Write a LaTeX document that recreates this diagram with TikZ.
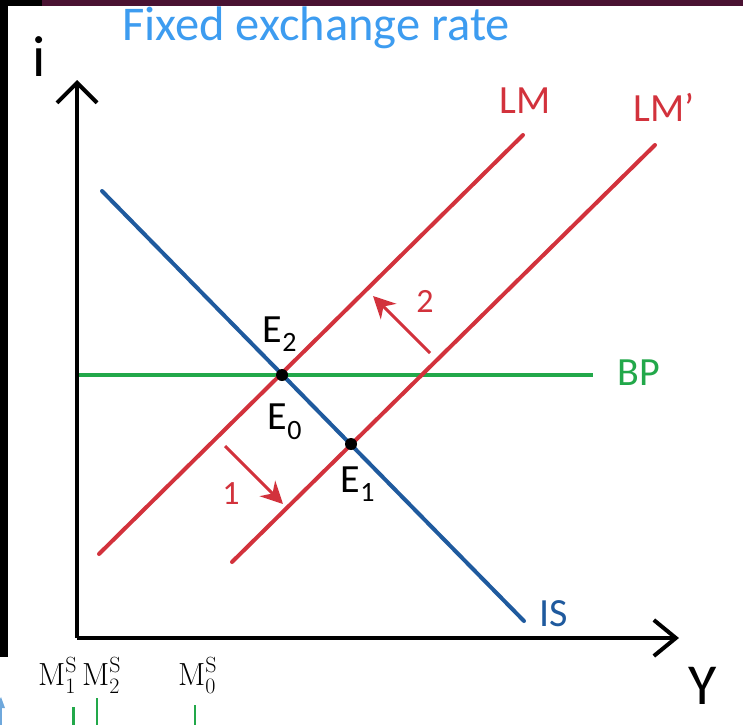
\documentclass[tikz,border=0pt]{standalone}
\usepackage[no-math]{fontspec}
\setmainfont{Carlito}
\newfontfamily\lmrfont{Latin Modern Roman}
\newcommand\mslabel[1]{{\lmrfont M\rlap{\raisebox{0.40em}{\fontsize{22}{24}\selectfont S}}\raisebox{-0.26em}{\fontsize{22}{24}\selectfont #1}}}
\usetikzlibrary{arrows.meta}
\definecolor{titleblue}{HTML}{3D9CF0}
\definecolor{lmred}{HTML}{D2323C}
\definecolor{isblue}{HTML}{1F5A9E}
\definecolor{bpgreen}{HTML}{22A84A}
\definecolor{topbar}{HTML}{4A1232}
\definecolor{tipblue}{HTML}{6FA8DC}
\tikzset{
  axis/.style={line width=4pt, black},
  curve/.style={line width=4pt, line cap=round},
  shiftarrow/.style={line width=3pt, lmred, -{Stealth[length=22pt,width=22pt]}},
  lbl/.style={inner sep=0pt, font=\fontsize{40}{44}\selectfont},
  biglbl/.style={inner sep=0pt, font=\fontsize{58}{62}\selectfont},
  numlbl/.style={inner sep=0pt, lmred, font=\fontsize{34}{38}\selectfont},
  eqdot/.style={circle, fill=black, inner sep=0pt, minimum size=12pt},
  mslbl/.style={inner sep=0pt, anchor=base west, font=\fontsize{32}{34}\selectfont},
}
\begin{document}
\begin{tikzpicture}[x=1pt,y=-1pt]
\useasboundingbox (0,0) rectangle (743,725);
% frame pieces
\fill[black] (0,0) rectangle (8,657);
\fill[black] (0,0) rectangle (42,6);
\fill[topbar] (42,0) rectangle (743,6);
% title
\node[inner sep=0pt, titleblue, font=\fontsize{48.5}{52}\selectfont, anchor=base west] (title) at (122,41) {Fixed exchange rate};
% axes
\coordinate (origin) at (77,638);
\coordinate (ytop) at (77,80);
\coordinate (xend) at (679,638);
\draw[axis, -{Straight Barb[length=20pt,width=40pt]}] (origin) -- (ytop);
\draw[axis, -{Straight Barb[length=22pt,width=36pt]}] (origin) -- (xend);
\node[biglbl] (ilbl) at (39,57) {i};
\node[biglbl] (ylbl) at (703,686) {Y};
% curves
\coordinate (is0) at (102,191);
\coordinate (is1) at (524,621);
\coordinate (lm0) at (99,554);
\coordinate (lm1) at (523,135);
\coordinate (lmp0) at (232,562);
\coordinate (lmp1) at (655,145);
\coordinate (bp0) at (79,375);
\coordinate (bp1) at (593,375);
\draw[curve, bpgreen, line cap=butt] (bp0) -- (bp1);
\draw[curve, isblue] (is0) -- (is1);
\draw[curve, lmred] (lm0) -- (lm1);
\draw[curve, lmred] (lmp0) -- (lmp1);
% labels
\node[lbl, lmred] (lmlbl) at (525,101) {LM};
\node[lbl, lmred] (lmplbl) at (664,107) {LM’};
\node[lbl, bpgreen] (bplbl) at (639,373) {BP};
\node[lbl, isblue] (islbl) at (554,614) {IS};
% equilibria
\node[eqdot] (E0) at (282,375) {};
\node[eqdot] (E1) at (351,444) {};
\node[lbl] (e2lbl) at (280,334) {E\textsubscript{2}};
\node[lbl] (e0lbl) at (285,422) {E\textsubscript{0}};
\node[lbl] (e1lbl) at (358,484) {E\textsubscript{1}};
% shift arrows
\coordinate (a1s) at (225,446);
\coordinate (a1e) at (283,504);
\coordinate (a2s) at (430,353);
\coordinate (a2e) at (373,296);
\draw[shiftarrow] (a1s) -- (a1e);
\draw[shiftarrow] (a2s) -- (a2e);
\node[numlbl] (n1) at (231,494) {1};
\node[numlbl] (n2) at (425,301) {2};
% cropped lower panel
\node[mslbl] (m1) at (38,685) {\mslabel{1}};
\node[mslbl] (m2) at (82,685) {\mslabel{2}};
\node[mslbl] (m0) at (178,685) {\mslabel{0}};
\coordinate (g1a) at (73,707); \coordinate (g1b) at (73,725);
\coordinate (g2a) at (97,698); \coordinate (g2b) at (97,725);
\coordinate (g0a) at (195,705); \coordinate (g0b) at (195,725);
\draw[bpgreen, line width=3pt] (g1a) -- (g1b);
\draw[bpgreen, line width=2.5pt] (g2a) -- (g2b);
\draw[bpgreen, line width=2.5pt] (g0a) -- (g0b);
\fill[tipblue] (-4,708) -- (1,697) -- (5,708) -- cycle;
\fill[tipblue] (0,706) rectangle (2,725);
\end{tikzpicture}
\end{document}
